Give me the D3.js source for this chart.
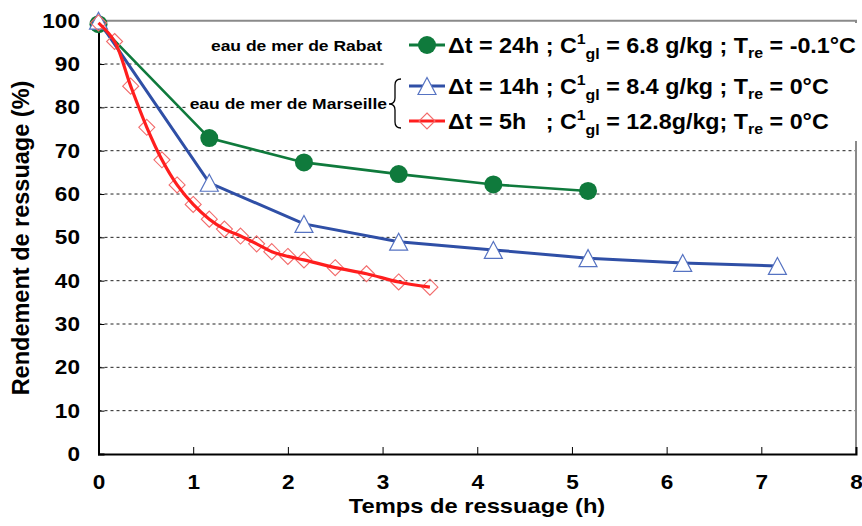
<!DOCTYPE html>
<html><head><meta charset="utf-8">
<script src="https://cdn.jsdelivr.net/npm/d3@7"></script>
<style>
html,body{margin:0;padding:0;background:#fff;}
svg{display:block;}
text{font-family:"Liberation Sans",Arial,sans-serif;font-weight:bold;fill:#000;}
</style></head>
<body>
<svg id="chart" width="862" height="526"></svg>
<script>
// ---- data ----
const xTicks = [0,1,2,3,4,5,6,7,8];
const yTicks = [0,10,20,30,40,50,60,70,80,90,100];

const greenT = [0, 1.17, 2.17, 3.17, 4.17, 5.17];
const greenV = [99.2, 72.9, 67.3, 64.6, 62.2, 60.7];

const blueT = [0, 1.17, 2.17, 3.17, 4.17, 5.17, 6.17, 7.17];
const blueV = [100, 62.6, 53.1, 49.0, 47.1, 45.2, 44.1, 43.4];

const redT = [0, 0.17, 0.34, 0.51, 0.67, 0.83, 1.0, 1.17, 1.33, 1.5, 1.67, 1.83, 2.0, 2.17, 2.5, 2.83, 3.17, 3.5];
const redV = [99.5, 95.2, 84.9, 75.4, 67.9, 62.1, 57.6, 54.2, 51.9, 50.3, 48.5, 46.7, 45.6, 44.8, 43.0, 41.6, 39.7, 38.5];

const xTitle = "Temps de ressuage (h)";
const yTitle = "Rendement de ressuage (%)";
const noteRabat = "eau de mer de Rabat";
const noteMarseille = "eau de mer de Marseille";
const legendRows = [
  {dt:"Δt = 24h ; C", c:"6.8 g/kg ; T", tr:"-0.1°C"},
  {dt:"Δt = 14h ; C", c:"8.4 g/kg ; T", tr:"0°C"},
  {dt:"Δt = 5h   ; C", c:"12.8g/kg; T", tr:"0°C"}
];

// ---- layout ----
const svg = d3.select("#chart");
const L = 98.5, R = 856, T = 20.7, B = 454;
const SX = 1.13;
const x = d3.scaleLinear().domain([0,8]).range([L,R]);
const y = d3.scaleLinear().domain([0,100]).range([B,T]);

const GREEN = "#0f7a3c", BLUE = "#2f4fa6", RED = "#ff1e1e";

// gridlines
svg.append("g").selectAll("line").data(yTicks.filter(v=>v>0 && v<100)).join("line")
  .attr("x1",L).attr("x2",R).attr("y1",d=>y(d)).attr("y2",d=>y(d))
  .attr("stroke","#222").attr("stroke-width",1).attr("stroke-dasharray","3,3");

// frame top/right
svg.append("path").attr("d",`M${L},${T}H${R}V${B}`).attr("fill","none")
  .attr("stroke","#8a8a8a").attr("stroke-width",2);

// legend white boxes (cover gridlines like reference)
svg.append("rect").attr("x",386).attr("y",23).attr("width",476).attr("height",118).attr("fill","#fff");
svg.append("rect").attr("x",186).attr("y",95).attr("width",201).attr("height",18).attr("fill","#fff");

// axes
const yAxis = svg.append("g").attr("transform",`translate(${L},0)`)
  .call(d3.axisLeft(y).tickValues(yTicks).tickSize(-6).tickPadding(18.5));
const xAxis = svg.append("g").attr("transform",`translate(0,${B})`)
  .call(d3.axisBottom(x).tickValues(xTicks).tickSize(-7).tickPadding(21));
[yAxis,xAxis].forEach(a=>{
  a.select(".domain").attr("stroke","#000").attr("stroke-width",2);
  a.selectAll(".tick line").attr("stroke","#000").attr("stroke-width",1);
  a.selectAll("text").attr("font-size",20).attr("font-family",'"Liberation Sans",Arial,sans-serif').attr("font-weight","bold");
});
yAxis.selectAll(".tick text").attr("x",0).attr("transform","translate(-18.5,0) scale(1.13,1)");
xAxis.selectAll(".tick text").attr("y",0).attr("transform","translate(0,21) scale(1.13,1)");

// titles
svg.append("text").attr("transform",`translate(477,513) scale(${SX},1)`).attr("text-anchor","middle")
  .attr("font-size",21).text(xTitle);
svg.append("text").attr("transform","translate(29,238) rotate(-90)").attr("text-anchor","middle")
  .attr("font-size",23.5).text(yTitle);

// series helpers
const line = d3.line().x(d=>x(d[0])).y(d=>y(d[1]));
const zip = (a,b)=>a.map((t,i)=>[t,b[i]]);
const tri = "M0,-8.5L9,8.5L-9,8.5Z";
const dia = "M0,-8L8,0L0,8L-8,0Z";

const gData = zip(greenT,greenV), bData = zip(blueT,blueV), rData = zip(redT,redV);

svg.append("path").attr("d",line(gData)).attr("fill","none").attr("stroke",GREEN).attr("stroke-width",2.6);
svg.append("g").selectAll("circle").data(gData).join("circle")
  .attr("cx",d=>x(d[0])).attr("cy",d=>y(d[1])).attr("r",9).attr("fill",GREEN);

svg.append("path").attr("d",line(bData)).attr("fill","none").attr("stroke",BLUE).attr("stroke-width",3);
svg.append("g").selectAll("path").data(bData).join("path")
  .attr("transform",d=>`translate(${x(d[0])},${y(d[1])})`).attr("d",tri)
  .attr("fill","#fff").attr("stroke","#5673c2").attr("stroke-width",1.2);

svg.append("g").selectAll("path").data(rData).join("path")
  .attr("transform",d=>`translate(${x(d[0])},${y(d[1])})`).attr("d",dia)
  .attr("fill","none").attr("stroke","#f26b6b").attr("stroke-width",1.1);
svg.append("path").attr("d",line.curve(d3.curveCatmullRom.alpha(0.5))(rData)).attr("fill","none")
  .attr("stroke",RED).attr("stroke-width",3.2);

// notes
svg.append("text").attr("transform",`translate(382,50.5) scale(${SX},1)`).attr("text-anchor","end")
  .attr("font-size",15.5).text(noteRabat);
svg.append("text").attr("transform",`translate(387,108.5) scale(${SX},1)`).attr("text-anchor","end")
  .attr("font-size",15.5).text(noteMarseille);
// brace
svg.append("path").attr("d","M401,79 Q395,79 395,85 L395,98 Q395,104 389,104 Q395,104 395,110 L395,122 Q395,128 401,128")
  .attr("fill","none").attr("stroke","#000").attr("stroke-width",1.3);

// legend
const rowsY = [45, 86, 121];
const colors = [GREEN, BLUE, RED];
const LSX = 1.06;
legendRows.forEach((r,i)=>{
  const yy = rowsY[i];
  svg.append("line").attr("x1",409).attr("x2",445).attr("y1",yy).attr("y2",yy)
    .attr("stroke",colors[i]).attr("stroke-width",3);
  if(i===0) svg.append("circle").attr("cx",427).attr("cy",yy).attr("r",9).attr("fill",GREEN);
  if(i===1) svg.append("path").attr("transform",`translate(427,${yy})`).attr("d",tri).attr("fill","#fff").attr("stroke","#5673c2").attr("stroke-width",1.2);
  if(i===2) svg.append("path").attr("transform",`translate(427,${yy})`).attr("d",dia).attr("fill","none").attr("stroke","#f26b6b").attr("stroke-width",1.1);
  const t = svg.append("text").attr("transform",`translate(448,${yy+7.5}) scale(${LSX},1)`)
    .attr("font-size",22).style("white-space","pre");
  t.append("tspan").text(r.dt);
  t.append("tspan").attr("font-size",15).attr("dy",-9).text("1");
  t.append("tspan").attr("font-size",15).attr("dy",15).text("gl");
  t.append("tspan").attr("dy",-6).text(" = " + r.c);
  t.append("tspan").attr("font-size",15).attr("dy",5).text("re");
  t.append("tspan").attr("dy",-5).text(" = " + r.tr);
});
</script>
</body></html>
